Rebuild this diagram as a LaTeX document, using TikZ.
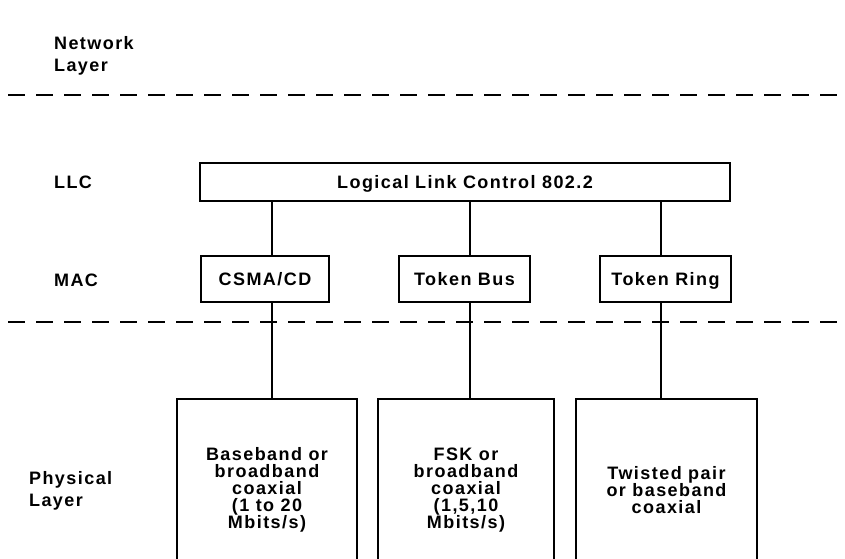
\documentclass[tikz,border=0pt]{standalone}
\usepackage{fontspec}
\newfontfamily\lblfont[LetterSpace=8]{Liberation Sans Bold}

\begin{document}
\begin{tikzpicture}[x=1pt,y=-1pt,line width=2.2pt,
  txt/.style={font=\lblfont\fontsize{18}{17}\selectfont,inner sep=0pt},
  lbl/.style={font=\lblfont\fontsize{18}{22}\selectfont,inner sep=0pt,anchor=west,align=left},
  box/.style={draw,txt,minimum height=46,text height=13,text depth=0},
  physbox/.style={draw,txt,align=center,anchor=north,minimum height=182},
  sep/.style={dash pattern=on 17pt off 11pt,line width=2.5pt}]

\clip (0,0) rectangle (845,558);

% layer names
\node[lbl] (netl) at (53,56) {Network\\Layer};
\node[lbl] (llcl) at (53,182) {LLC};
\node[lbl] (macl) at (53,280) {MAC};
\node[lbl] (phyl) at (28,491) {Physical\\Layer};

% layer borders
\coordinate (s1a) at (8,95);
\coordinate (s1b) at (850,95);
\coordinate (s2a) at (8,322);
\coordinate (s2b) at (850,322);
\path [draw,sep] (s1a) -- (s1b) (s2a) -- (s2b);

% columns
\coordinate (c1) at (272,0);
\coordinate (c2) at (470,0);
\coordinate (c3) at (661,0);

\node[box,minimum width=530,minimum height=38] (llc) at (465,182) {Logical Link Control 802.2};

\node[box,minimum width=128] (csma) at (265,279) {CSMA/CD};
\node[box,minimum width=131] (tbus) at (464.5,279) {Token Bus};
\node[box,minimum width=131] (tring) at (665.5,279) {Token Ring};

\node[physbox,minimum width=180] (base) at (267,398) {Baseband or\\broadband\\coaxial\\(1 to 20\\Mbits/s)};
\node[physbox,minimum width=176] (fsk) at (466,398) {FSK or\\broadband\\coaxial\\(1,5,10\\Mbits/s)};
\node[physbox,minimum width=181] (twist) at (666.5,398) {Twisted pair\\or baseband\\coaxial};

\path [draw]
    (llc.south -| c1) -- (csma.north -| c1)
    (llc.south -| c2) -- (tbus.north -| c2)
    (llc.south -| c3) -- (tring.north -| c3)
    (csma.south -| c1) -- (base.north -| c1)
    (tbus.south -| c2) -- (fsk.north -| c2)
    (tring.south -| c3) -- (twist.north -| c3)
;

\end{tikzpicture}
\end{document}
